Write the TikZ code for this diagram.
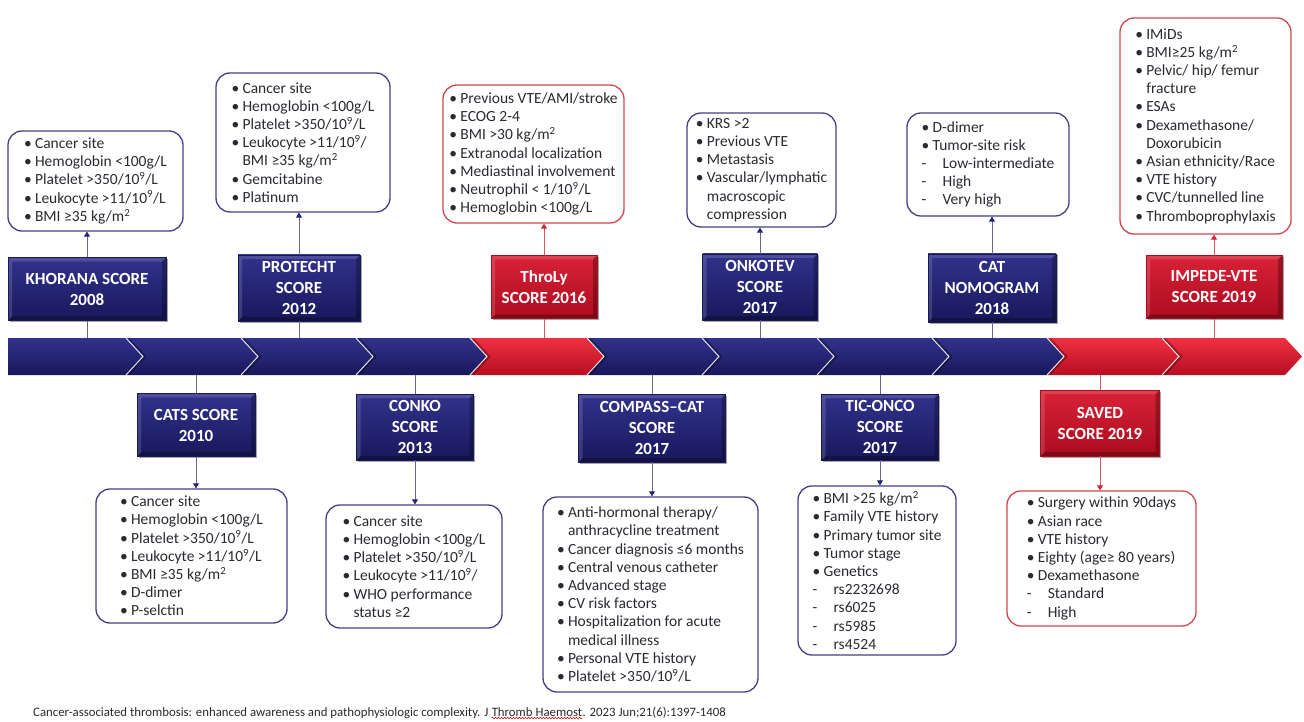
\documentclass[tikz,border=0pt]{standalone}
\usepackage{fontspec}
\setmainfont{Carlito}
\usetikzlibrary{arrows.meta,shadows,decorations.pathmorphing}

\definecolor{navytop}{RGB}{50,50,140}
\definecolor{navybot}{RGB}{24,24,92}
\definecolor{navytip}{RGB}{36,36,118}
\definecolor{redtop}{RGB}{240,48,66}
\definecolor{redbot}{RGB}{182,14,34}
\definecolor{redboxtop}{RGB}{216,34,54}
\definecolor{redboxbot}{RGB}{172,12,32}
\definecolor{navyline}{RGB}{72,62,132}
\definecolor{redline}{RGB}{206,72,82}
\definecolor{connnavy}{RGB}{112,98,142}
\definecolor{connred}{RGB}{208,92,102}
\definecolor{txt}{RGB}{42,42,50}

% list helpers: bullet item, continuation line, dash sub-item
\newcommand{\bi}[1]{\makebox[11pt][l]{\textbullet}#1}
\newcommand{\bc}[1]{\makebox[11pt][l]{}#1}
\newcommand{\bd}[1]{\makebox[21pt][l]{-}#1}
\newcommand{\nine}{\textsuperscript{9}}
\newcommand{\sqm}{m\textsuperscript{2}}

% one timeline chevron between base x-positions #1 and #2
\newcommand{\chevseg}[4]{%
  \shade[top color=#3, bottom color=#4] (#1,338) -- (#2,338) -- (#2+17,356.5) -- (#2,375) -- (#1,375) -- (#1+17,356.5) -- cycle;
  \draw[black, opacity=.30, line width=2.5pt] (#1+2.5,338.5) -- (#1+19,356.5) -- (#1+2.5,374.5);
  \draw[white, opacity=.85, line width=1pt] (#1,338) -- (#1+17,356.5) -- (#1,375);
}

\tikzset{
  sz/.style 2 args={minimum width=#1pt, minimum height=#2pt},
  bevel/.style={path picture={
    \fill[black, opacity=.28] (path picture bounding box.south west) -- (path picture bounding box.south east)
      -- (path picture bounding box.north east) -- ([xshift=-4pt,yshift=-4pt]path picture bounding box.north east)
      -- ([xshift=-4pt,yshift=4pt]path picture bounding box.south east) -- ([xshift=4pt,yshift=4pt]path picture bounding box.south west) -- cycle;
    \fill[white, opacity=.14] (path picture bounding box.south west) -- (path picture bounding box.north west)
      -- (path picture bounding box.north east) -- ([xshift=-4pt,yshift=-4pt]path picture bounding box.north east)
      -- ([xshift=4pt,yshift=-4pt]path picture bounding box.north west) -- ([xshift=4pt,yshift=4pt]path picture bounding box.south west) -- cycle;}},
  score/.style={font=\fontsize{17}{21}\selectfont\bfseries, text=white, align=center, inner sep=2pt, bevel,
    drop shadow={shadow xshift=1.5pt, shadow yshift=-1.5pt, opacity=.35, fill=black}},
  snavy/.style={score, top color=navytop, bottom color=navybot, draw=navybot, line width=0.8pt},
  sred/.style={score, top color=redboxtop, bottom color=redboxbot, draw=redboxbot, line width=0.8pt},
  detail/.style={rounded corners=14pt, line width=1.3pt, fill=white, text=txt,
    font=\fontsize{15.5}{18.2}\selectfont, align=left, inner sep=3pt},
  dnavy/.style={detail, draw=navyline},
  dred/.style={detail, draw=redline},
  upn/.style={draw=connnavy, line width=0.8pt, -{Triangle[length=5pt,width=6pt,color=navytip]}},
  upr/.style={draw=connred, line width=0.8pt, -{Triangle[length=5pt,width=6pt,color=redboxtop]}},
  tien/.style={draw=connnavy, line width=0.8pt},
  tier/.style={draw=connred, line width=0.8pt},
  srcline/.style={font=\fontsize{12.8}{14}\selectfont, text=txt, inner sep=0pt, anchor=base west}
}

\begin{document}
\begin{tikzpicture}[x=1pt,y=-1pt]
\useasboundingbox (0,0) rectangle (1304,722);
\fill[white] (0,0) rectangle (1304,722);

% ---------- timeline arrow ----------
\shade[top color=navytop, bottom color=navybot] (8,338) -- (126,338) -- (143,356.5) -- (126,375) -- (8,375) -- cycle;
\chevseg{126}{241}{navytop}{navybot}
\chevseg{241}{356}{navytop}{navybot}
\chevseg{356}{470}{navytop}{navybot}
\chevseg{470}{587}{redtop}{redbot}
\chevseg{587}{702}{navytop}{navybot}
\chevseg{702}{817}{navytop}{navybot}
\chevseg{817}{932}{navytop}{navybot}
\chevseg{932}{1047}{navytop}{navybot}
\chevseg{1047}{1162}{redtop}{redbot}
\chevseg{1162}{1285}{redtop}{redbot}
\coordinate (tltop) at (650,338);
\coordinate (tlbot) at (650,375);

% ---------- scores above the timeline ----------
\node[snavy, sz={158}{63}] (khs) at (87,289)   {KHORANA SCORE\\2008};
\node[snavy, sz={122}{66}] (prs) at (299,288)  {PROTECHT\\SCORE\\2012};
\node[sred,  sz={106}{63}] (ths) at (544,287)  {ThroLy\\SCORE 2016};
\node[snavy, sz={115}{66}] (ons) at (760,287)  {ONKOTEV\\SCORE\\2017};
\node[snavy, sz={128}{68}] (cas) at (992,288)  {CAT\\NOMOGRAM\\2018};
\node[sred,  sz={136}{63}] (ims) at (1214,287) {IMPEDE-VTE\\SCORE 2019};

% ---------- scores below the timeline ----------
\node[snavy, sz={118}{63}] (cts) at (196,425)  {CATS SCORE\\2010};
\node[snavy, sz={117}{66}] (cks) at (415,427)  {CONKO\\SCORE\\2013};
\node[snavy, sz={147}{68}] (cps) at (652,428)  {COMPASS--CAT\\SCORE\\2017};
\node[snavy, sz={117}{66}] (tcs) at (880,427)  {TIC-ONCO\\SCORE\\2017};
\node[sred,  sz={119}{66}] (svs) at (1100,423) {SAVED\\SCORE 2019};

% ---------- variables, upper row ----------
\node[dnavy, sz={175}{100}] (khd) at (95.5,181) {%
\bi{Cancer site}\\\bi{Hemoglobin <100g/L}\\\bi{Platelet >350/10\nine/L}\\\bi{Leukocyte >11/10\nine/L}\\\bi{BMI ≥35 kg/\sqm}};
\node[dnavy, sz={174}{139}] (prd) at (303,142.5) {%
\bi{Cancer site}\\\bi{Hemoglobin <100g/L}\\\bi{Platelet >350/10\nine/L}\\\bi{Leukocyte >11/10\nine/}\\\bc{BMI ≥35 kg/\sqm}\\\bi{Gemcitabine}\\\bi{Platinum}};
\node[dred, sz={181}{138}] (thd) at (533.5,154) {%
\bi{Previous VTE/AMI/stroke}\\\bi{ECOG 2-4}\\\bi{BMI >30 kg/\sqm}\\\bi{Extranodal localization}\\\bi{Mediastinal involvement}\\\bi{Neutrophil < 1/10\nine/L}\\\bi{Hemoglobin <100g/L}};
\node[dnavy, sz={149}{114}] (ond) at (761.5,170) {%
\bi{KRS >2}\\\bi{Previous VTE}\\\bi{Metastasis}\\\bi{Vascular/lymphatic}\\\bc{macroscopic}\\\bc{compression}};
\node[dnavy, sz={162}{103}] (cad) at (988,164.5) {%
\bi{D-dimer}\\\bi{Tumor-site risk}\\\bd{Low-intermediate}\\\bd{High}\\\bd{Very high}};
\node[dred, sz={171}{216}] (imd) at (1205.5,126) {%
\bi{IMiDs}\\\bi{BMI≥25 kg/\sqm}\\\bi{Pelvic/ hip/ femur}\\\bc{fracture}\\\bi{ESAs}\\\bi{Dexamethasone/}\\\bc{Doxorubicin}\\\bi{Asian ethnicity/Race}\\\bi{VTE history}\\\bi{CVC/tunnelled line}\\\bi{Thromboprophylaxis}};

% ---------- variables, lower row ----------
\node[dnavy, sz={191}{134}] (ctd) at (191.5,556) {%
\bi{Cancer site}\\\bi{Hemoglobin <100g/L}\\\bi{Platelet >350/10\nine/L}\\\bi{Leukocyte >11/10\nine/L}\\\bi{BMI ≥35 kg/\sqm}\\\bi{D-dimer}\\\bi{P-selctin}};
\node[dnavy, sz={176}{123}] (ckd) at (414,566.5) {%
\bi{Cancer site}\\\bi{Hemoglobin <100g/L}\\\bi{Platelet >350/10\nine/L}\\\bi{Leukocyte >11/10\nine/}\\\bi{WHO performance}\\\bc{status ≥2}};
\node[dnavy, sz={215}{195}] (cpd) at (650.5,594.5) {%
\bi{Anti-hormonal therapy/}\\\bc{anthracycline treatment}\\\bi{Cancer diagnosis ≤6 months}\\\bi{Central venous catheter}\\\bi{Advanced stage}\\\bi{CV risk factors}\\\bi{Hospitalization for acute}\\\bc{medical illness}\\\bi{Personal VTE history}\\\bi{Platelet >350/10\nine/L}};
\node[dnavy, sz={158}{169}] (tcd) at (877,570.5) {%
\bi{BMI >25 kg/\sqm}\\\bi{Family VTE history}\\\bi{Primary tumor site}\\\bi{Tumor stage}\\\bi{Genetics}\\\bd{rs2232698}\\\bd{rs6025}\\\bd{rs5985}\\\bd{rs4524}};
\node[dred, sz={189}{135}] (svd) at (1101.5,558.5) {%
\bi{Surgery within 90days}\\\bi{Asian race}\\\bi{VTE history}\\\bi{Eighty (age≥ 80 years)}\\\bi{Dexamethasone}\\\bd{Standard}\\\bd{High}};

% ---------- connectors ----------
\foreach \s/\d in {khs/khd, prs/prd, ons/ond, cas/cad} {
  \draw[tien] (\s.south) -- (\s.south |- tltop);
  \draw[upn] (\s.north) -- (\s.north |- \d.south);
}
\foreach \s/\d in {ths/thd, ims/imd} {
  \draw[tier] (\s.south) -- (\s.south |- tltop);
  \draw[upr] (\s.north) -- (\s.north |- \d.south);
}
\foreach \s/\d in {cts/ctd, cks/ckd, cps/cpd, tcs/tcd} {
  \draw[tien] (\s.north) -- (\s.north |- tlbot);
  \draw[upn] (\s.south) -- (\s.south |- \d.north);
}
\draw[tier] (svs.north) -- (svs.north |- tlbot);
\draw[upr] (svs.south) -- (svs.south |- svd.north);

% ---------- source line ----------
\node[srcline] (src1) at (33,716) {Cancer-associated thrombosis: enhanced awareness and pathophysiologic complexity. J};
\node[srcline, xshift=2.9pt] (src2) at (src1.base east) {Thromb Haemost};
\node[srcline] (src3) at (src2.base east) {. 2023 Jun;21(6):1397-1408};
\draw[red!85!black, line width=0.5pt, decorate, decoration={snake, amplitude=0.7pt, segment length=3pt}]
  ([yshift=-2pt]src2.base west) -- ([yshift=-2pt]src2.base east);
\end{tikzpicture}
\end{document}
